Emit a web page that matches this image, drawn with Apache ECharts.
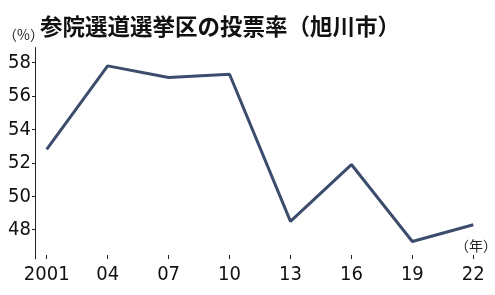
<!DOCTYPE html>
<html>
<head>
<meta charset="utf-8">
<script src="https://cdn.jsdelivr.net/npm/echarts@6/dist/echarts.min.js"></script>
<style>html,body{margin:0;padding:0;background:#fff}#c{width:495px;height:295px}</style>
</head>
<body>
<div id="c"></div>
<script>
const categories = ['2001', '04', '07', '10', '13', '16', '19', '22'];
const turnout = [52.8, 57.8, 57.1, 57.3, 48.5, 51.9, 47.3, 48.3];
const yTicks = [48, 50, 52, 54, 56, 58];
const titleText = '参院選道選挙区の投票率（旭川市）';
const yUnit = '（%）';
const xUnit = '（年）';

const numFont = "'Liberation Sans Narrow', 'DejaVu Sans Condensed', sans-serif";
const chart = echarts.init(document.getElementById('c'), null, {renderer: 'canvas'});
chart.setOption({
  animation: false,
  backgroundColor: '#ffffff',
  grid: {left: 46.7, right: 21.7, top: 47.5, bottom: 36},
  xAxis: {
    type: 'category',
    data: categories,
    boundaryGap: false,
    axisLine: {show: false},
    axisTick: {show: true, inside: true, length: 4, alignWithLabel: true, lineStyle: {color: '#222', width: 1}},
    axisLabel: {color: '#111', fontFamily: numFont, fontSize: 20, margin: 6},
    splitLine: {show: false}
  },
  yAxis: {
    type: 'value',
    min: 46.25,
    max: 58.9,
    offset: 11.7,
    axisLine: {show: true, lineStyle: {color: '#222', width: 1}},
    axisTick: {show: true, length: 3, customValues: yTicks, lineStyle: {color: '#222', width: 1}},
    axisLabel: {color: '#111', fontFamily: numFont, fontSize: 20, margin: 4, customValues: yTicks},
    splitLine: {show: false}
  },
  series: [{
    type: 'line',
    data: turnout,
    symbol: 'none',
    lineStyle: {color: '#3c4c6c', width: 3},
    itemStyle: {color: '#3c4c6c'}
  }],
  graphic: [
    {type: 'text', left: 40, top: 15, style: {text: titleText, fontFamily: "'Noto Sans CJK JP', sans-serif", fontWeight: 'bold', fontSize: 22.5, fill: '#111'}},
    {type: 'text', x: 23.5, y: 35, style: {text: yUnit, fontFamily: "'Noto Sans CJK JP', sans-serif", fontSize: 14, fill: '#222', align: 'center', verticalAlign: 'middle'}},
    {type: 'text', x: 476, y: 246, style: {text: xUnit, fontFamily: "'Noto Sans CJK JP', sans-serif", fontSize: 14, fill: '#222', align: 'center', verticalAlign: 'middle'}}
  ]
});
</script>
</body>
</html>
